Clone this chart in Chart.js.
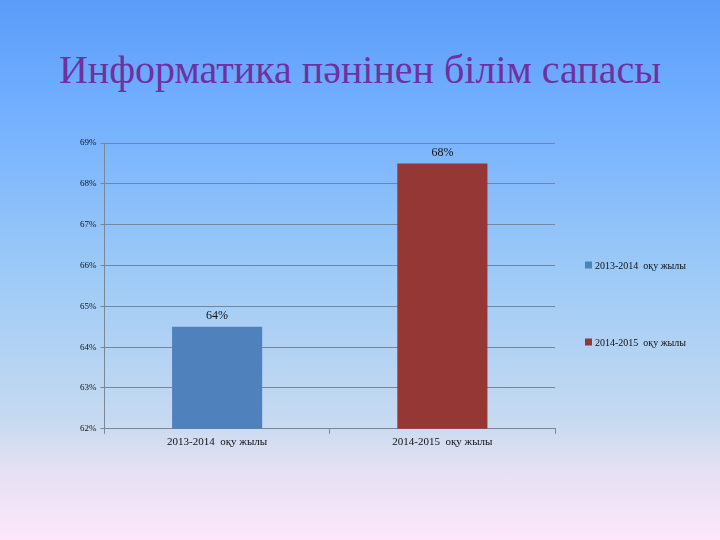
<!DOCTYPE html>
<html>
<head>
<meta charset="utf-8">
<script src="https://cdn.jsdelivr.net/npm/chart.js@4"></script>
<style>
  html, body { margin: 0; padding: 0; }
  body {
    width: 720px; height: 540px; overflow: hidden; position: relative;
    background: linear-gradient(to bottom, #5a9cf8 0%, #72afff 20%, #9ccaf7 50%, #c6daf0 78%, #e3e0f3 86%, #fde7fb 100%);
  }
  canvas { display: block; position: absolute; left: 0; top: 0; }
  h1 {
    position: absolute; left: 0; top: 50px; width: 720px; margin: 0;
    text-align: center; font: normal 40px/40px 'Liberation Serif', serif; color: #7030a0;
  }
</style>
</head>
<body>
<h1>Информатика пәнінен білім сапасы</h1>
<canvas id="chart" width="720" height="540"></canvas>
<script>
// дані діаграми
const categories = ["2013-2014  оқу жылы", "2014-2015  оқу жылы"]
const seriesNames = ["2013-2014  оқу жылы", "2014-2015  оқу жылы"]
const seriesColors = ["#4f81bd", "#953735"]
const values2013 = [64.5, null]
const values2014 = [null, 68.5]
const dataLabels = ["64%", "68%"]
const yTicks = [62, 63, 64, 65, 66, 67, 68, 69]

const serif = "'Liberation Serif', 'DejaVu Serif', serif"

// підписи над стовпцями
const barLabels = {
    id: "barLabels",
    afterDatasetsDraw(chart) {
        const ctx = chart.ctx
        ctx.save()
        ctx.font = "12px " + serif
        ctx.fillStyle = "#111"
        ctx.textAlign = "center"
        ctx.textBaseline = "bottom"
        chart.data.datasets.forEach((ds, i) => {
            const meta = chart.getDatasetMeta(i)
            meta.data.forEach((bar, j) => {
                if (ds.data[j] == null) return
                ctx.fillText(dataLabels[i], bar.x, bar.y - 5)
            })
        })
        ctx.restore()
    }
}

// легенда праворуч, як в Excel: пункти далеко один від одного
const sideLegend = {
    id: "sideLegend",
    afterDraw(chart) {
        const ctx = chart.ctx
        const area = chart.chartArea
        const offsets = [122, 199]
        ctx.save()
        ctx.font = "10px " + serif
        ctx.textBaseline = "middle"
        ctx.textAlign = "left"
        chart.data.datasets.forEach((ds, i) => {
            const y = area.top + offsets[i]
            ctx.fillStyle = ds.backgroundColor
            ctx.fillRect(area.right + 30, y - 3.5, 7, 7)
            ctx.fillStyle = "#111"
            ctx.fillText(ds.label, area.right + 40, y + 1)
        })
        ctx.restore()
    }
}

new Chart(document.getElementById("chart"), {
    type: "bar",
    data: {
        labels: categories,
        datasets: [
            { label: seriesNames[0], data: values2013, backgroundColor: seriesColors[0] },
            { label: seriesNames[1], data: values2014, backgroundColor: seriesColors[1] }
        ]
    },
    options: {
        responsive: false,
        animation: false,
        devicePixelRatio: 1,
        skipNull: true,
        categoryPercentage: 0.8,
        barPercentage: 0.5,
        layout: { padding: { left: 76, right: 165, top: 143, bottom: 89 } },
        plugins: {
            legend: { display: false },
            tooltip: { enabled: false }
        },
        scales: {
            x: {
                grid: { drawOnChartArea: false, drawTicks: true, tickLength: 5, color: "#7a8797" },
                border: { color: "#7a8797" },
                ticks: { color: "#111", font: { family: serif, size: 11 }, padding: 2 }
            },
            y: {
                min: yTicks[0],
                max: yTicks[yTicks.length - 1],
                afterBuildTicks(axis) { axis.ticks = yTicks.map(v => ({ value: v })) },
                grid: { color: "#74869c", tickLength: 4 },
                border: { color: "#7a8797" },
                ticks: { color: "#111", font: { family: serif, size: 9 }, padding: 4, callback: v => v + "%" }
            }
        }
    },
    plugins: [barLabels, sideLegend]
})
</script>
</body>
</html>
